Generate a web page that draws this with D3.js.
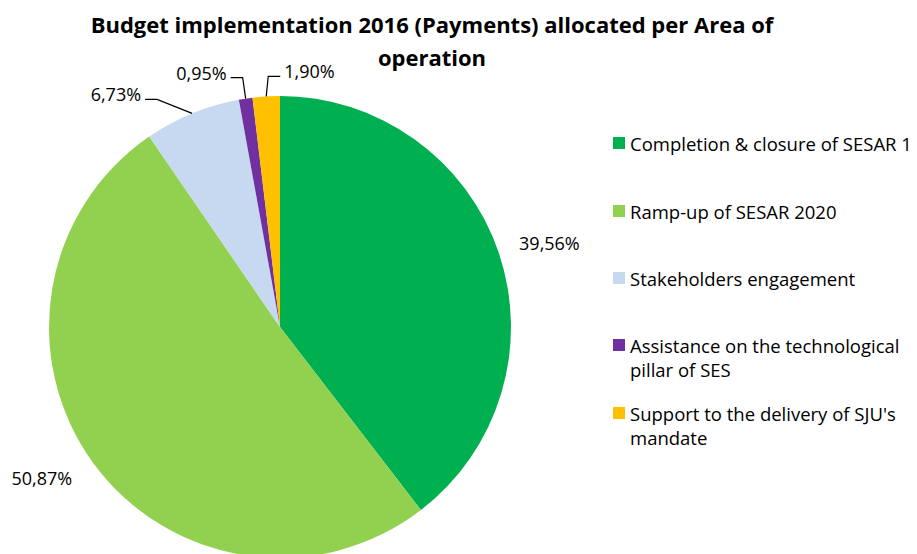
<!DOCTYPE html>
<html>
<head>
<meta charset="utf-8">
<script src="https://cdn.jsdelivr.net/npm/d3@7"></script>
<style>
  body { margin: 0; background: #fff; }
  svg { display: block; font-family: "Open Sans", Lato, sans-serif; }
</style>
</head>
<body>
<div id="chart"></div>
<script>
const width = 917;
const height = 554;

// chart data
const categories = [
  "Completion & closure of SESAR 1",
  "Ramp-up of SESAR 2020",
  "Stakeholders engagement",
  "Assistance on the technological pillar of SES",
  "Support to the delivery of SJU's mandate"
];
const values = [39.56, 50.87, 6.73, 0.95, 1.90];
const colors = ["#00b050", "#92d050", "#c6d9f1", "#7030a0", "#ffc000"];
const legendLines = [
  ["Completion & closure of SESAR 1"],
  ["Ramp-up of SESAR 2020"],
  ["Stakeholders engagement"],
  ["Assistance on the technological", "pillar of SES"],
  ["Support to the delivery of SJU's", "mandate"]
];
const titleLines = ["Budget implementation 2016 (Payments) allocated per Area of", "operation"];

const cx = 280, cy = 327, r = 231;
const fmt = v => d3.format(".2f")(v).replace(".", ",") + "%";

const svg = d3.select("#chart").append("svg")
  .attr("width", width)
  .attr("height", height);

// title
svg.append("g").selectAll("text")
  .data(titleLines)
  .join("text")
  .attr("x", 432)
  .attr("y", (d, i) => 24 + i * 33)
  .attr("text-anchor", "middle")
  .attr("dominant-baseline", "central")
  .attr("font-size", 22)
  .attr("font-weight", "bold")
  .attr("fill", "#000")
  .text(d => d);

const pie = d3.pie().sort(null).value(d => d)(values);
const arc = d3.arc().innerRadius(0).outerRadius(r);
const onEdge = d3.arc().innerRadius(r).outerRadius(r);

const g = svg.append("g").attr("transform", `translate(${cx},${cy})`);

g.selectAll("path")
  .data(pie)
  .join("path")
  .attr("d", arc)
  .attr("fill", (d, i) => colors[i]);

// labels: big slices outside, small ones on leader lines
const outside = d3.arc().innerRadius(r * 1.2).outerRadius(r * 1.2);
const bigOffset = [[7, 5], [-14, -12]];
pie.slice(0, 2).forEach((d, i) => {
  const [x, y] = outside.centroid(d);
  g.append("text")
    .attr("x", x + bigOffset[i][0])
    .attr("y", y + bigOffset[i][1])
    .attr("text-anchor", "middle")
    .attr("dominant-baseline", "central")
    .attr("font-size", 18)
    .attr("fill", "#000")
    .text(fmt(values[i]));
});

const elbow = { 2: [-35, -14, -1], 3: [-3, -21, -1], 4: [2, -20, 1] };
pie.forEach((d, i) => {
  if (!elbow[i]) return;
  const [ax, ay] = onEdge.centroid(d);
  const [ex, ey, dir] = elbow[i];
  const bx = ax + ex, by = ay + ey;
  const tx = bx + dir * 12;
  g.append("path")
    .attr("d", `M${ax},${ay}L${bx},${by}L${tx},${by}`)
    .attr("fill", "none")
    .attr("stroke", "#000")
    .attr("stroke-width", 1.2);
  g.append("text")
    .attr("x", tx + dir * 4)
    .attr("y", by - 5)
    .attr("text-anchor", dir < 0 ? "end" : "start")
    .attr("dominant-baseline", "central")
    .attr("font-size", 18)
    .attr("fill", "#000")
    .text(fmt(values[i]));
});

// legend
const legendY = [143, 211, 278, 345, 413];
const legend = svg.append("g").attr("transform", "translate(613,0)");
const items = legend.selectAll("g")
  .data(categories)
  .join("g")
  .attr("transform", (d, i) => `translate(0,${legendY[i]})`);

items.append("rect")
  .attr("x", 0)
  .attr("y", -6)
  .attr("width", 12)
  .attr("height", 12)
  .attr("fill", (d, i) => colors[i]);

items.each(function(d, i) {
  d3.select(this).selectAll("text")
    .data(legendLines[i])
    .join("text")
    .attr("x", 17)
    .attr("y", (t, j) => j * 24)
    .attr("dominant-baseline", "central")
    .attr("font-size", 18.5)
    .attr("fill", "#000")
    .text(t => t);
});
</script>
</body>
</html>
